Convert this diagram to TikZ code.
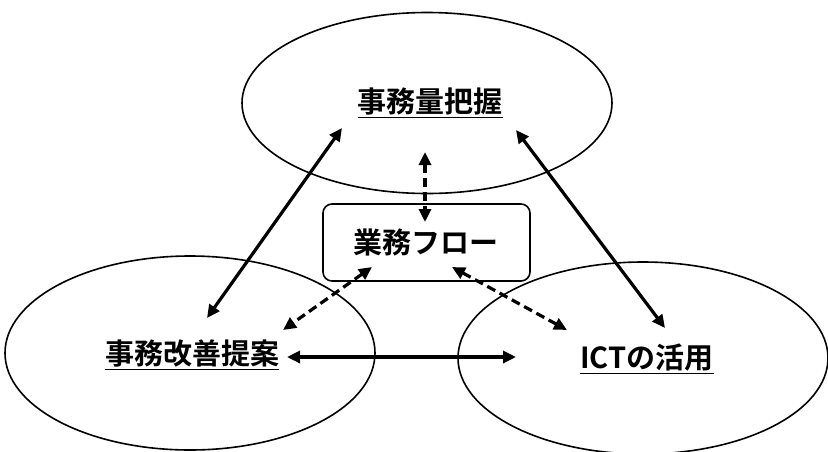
\documentclass[tikz,border=0pt]{standalone}
\usepackage{fontspec}
\newfontfamily\jpfont{Noto Sans CJK JP Bold}
\usetikzlibrary{shapes.geometric,arrows.meta}
\tikzset{
  ell/.style={draw,ellipse,line width=1.6pt,minimum width=370pt,inner sep=0pt},
  lbl/.style={font=\jpfont\fontsize{29}{32}\selectfont,inner sep=0pt},
  flowbox/.style={draw,rounded corners=9pt,line width=1.6pt,minimum width=207pt,minimum height=77pt},
  solidarr/.style={line width=3.2pt,{Triangle[length=13pt,width=12pt]}-{Triangle[length=13pt,width=12pt]}},
  dasharr/.style={line width=3.2pt,dash pattern=on 9pt off 5pt,{Triangle[length=13pt,width=12pt]}-{Triangle[length=13pt,width=12pt]}}
}
\begin{document}
\begin{tikzpicture}[x=1pt,y=-1pt]
\useasboundingbox (0,0) rectangle (828,451);
\node[ell,minimum height=181pt] (top) at (427,103) {};
\node[ell,minimum height=194pt] (left) at (190,353) {};
\node[ell,minimum height=192pt] (right) at (643,358) {};
\node[flowbox] (flow) at (426.5,242.5) {};
\node[lbl] (tl) at (430,103) {\underline{事務量把握}};
\node[lbl] (ll) at (192,355) {\underline{事務改善提案}};
\node[lbl] (rl) at (647,359) {\underline{ICTの活用}};
\node[lbl] (fl) at (426,242) {業務フロー};
\coordinate (a1) at (342,128);
\coordinate (a2) at (207,318);
\coordinate (b1) at (516,130);
\coordinate (b2) at (665,328);
\coordinate (c1) at (287,357);
\coordinate (c2) at (516,357);
\coordinate (d1) at (425,152);
\coordinate (d2) at (425,222);
\coordinate (e1) at (372,267);
\coordinate (e2) at (283,330);
\coordinate (f1) at (452,267);
\coordinate (f2) at (567,330);
\draw[solidarr] (a1) -- (a2);
\draw[solidarr] (b1) -- (b2);
\draw[solidarr] (c1) -- (c2);
\draw[dasharr] (d1) -- (d2);
\draw[dasharr] (e1) -- (e2);
\draw[dasharr] (f1) -- (f2);
\end{tikzpicture}
\end{document}
